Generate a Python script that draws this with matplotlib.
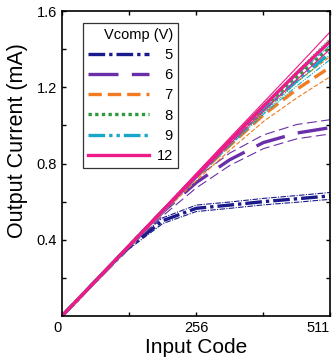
import matplotlib
matplotlib.use("Agg")
import matplotlib.pyplot as plt
import numpy as np

plt.rcParams['font.family'] = ['Liberation Sans', 'DejaVu Sans']

codes = [0, 64, 128, 192, 256, 320, 384, 448, 511]

v5_mid = [0, 0.183, 0.362, 0.50, 0.565, 0.582, 0.600, 0.615, 0.630]
v5_lo  = [0, 0.180, 0.352, 0.485, 0.548, 0.565, 0.583, 0.597, 0.612]
v5_hi  = [0, 0.186, 0.372, 0.515, 0.582, 0.598, 0.617, 0.632, 0.648]

v6_mid = [0, 0.184, 0.367, 0.545, 0.700, 0.820, 0.910, 0.960, 0.988]
v6_lo  = [0, 0.181, 0.358, 0.525, 0.672, 0.790, 0.878, 0.930, 0.955]
v6_hi  = [0, 0.187, 0.376, 0.562, 0.725, 0.855, 0.950, 1.005, 1.030]

v7_mid = [0, 0.184, 0.368, 0.550, 0.728, 0.895, 1.055, 1.190, 1.305]
v7_lo  = [0, 0.182, 0.362, 0.540, 0.710, 0.870, 1.020, 1.145, 1.255]
v7_hi  = [0, 0.186, 0.372, 0.558, 0.740, 0.915, 1.085, 1.230, 1.360]

v8_mid = [0, 0.184, 0.368, 0.552, 0.735, 0.915, 1.090, 1.255, 1.410]
v8_lo  = [0, 0.182, 0.364, 0.545, 0.725, 0.898, 1.065, 1.225, 1.370]
v8_hi  = [0, 0.186, 0.372, 0.558, 0.745, 0.930, 1.110, 1.285, 1.455]

v9_mid = [0, 0.184, 0.368, 0.550, 0.732, 0.910, 1.080, 1.235, 1.380]
v9_lo  = [0, 0.182, 0.364, 0.544, 0.722, 0.893, 1.058, 1.208, 1.345]
v9_hi  = [0, 0.186, 0.372, 0.556, 0.742, 0.925, 1.100, 1.265, 1.420]

v12_mid = [0, 0.184, 0.369, 0.553, 0.737, 0.920, 1.100, 1.275, 1.440]
v12_lo  = [0, 0.182, 0.364, 0.546, 0.726, 0.903, 1.075, 1.240, 1.400]
v12_hi  = [0, 0.186, 0.373, 0.560, 0.748, 0.935, 1.120, 1.305, 1.490]

labels = ['5', '6', '7', '8', '9', '12']
colors = ['#1a1a8c', '#6a2fa8', '#f27a20', '#2a9a3a', '#19a7c9', '#ee1a8a']
styles = [(0, (5, 1.2, 1, 1.2)), (0, (9, 4)), (0, (4, 1.8)), (0, (1, 1)),
          (0, (5, 1.2, 1, 1.2, 1, 1.2)), '-']
mids = [v5_mid, v6_mid, v7_mid, v8_mid, v9_mid, v12_mid]
los = [v5_lo, v6_lo, v7_lo, v8_lo, v9_lo, v12_lo]
his = [v5_hi, v6_hi, v7_hi, v8_hi, v9_hi, v12_hi]

fig = plt.figure(figsize=(3.35, 3.63), dpi=100)
ax = fig.add_axes([0.185, 0.1295, 0.800, 0.8400])

handles = []
for lab, c, ls, m, lo, hi in zip(labels, colors, styles, mids, los, his):
    ax.plot(codes, lo, color=c, lw=0.8, ls=ls)
    ax.plot(codes, hi, color=c, lw=0.8, ls=ls)
    h, = ax.plot(codes, m, color=c, lw=2.4, ls=ls, label='\u2007' * (2 - len(lab)) + lab)
    handles.append(h)

ax.set_xlim(0, 511)
ax.set_ylim(0, 1.6)
ax.set_xticks([0, 256, 511])
ax.set_xticklabels(['0', '256', '511'], fontsize=10.5)
ax.set_xticks([128, 384], minor=True)
xt = ax.get_xticklabels()
xt[0].set_ha('right')
xt[2].set_ha('right')
ax.set_yticks([0.4, 0.8, 1.2, 1.6])
ax.set_yticklabels(['0.4', '0.8', '1.2', '1.6'], fontsize=10.5)
ax.set_yticks([0.2, 0.6, 1.0, 1.4], minor=True)
ax.tick_params(which='both', direction='in', top=True, right=True, length=3, width=1)
for s in ax.spines.values():
    s.set_linewidth(1.2)

ax.set_xlabel('Input Code', fontsize=15, labelpad=2)
ax.set_ylabel('Output Current (mA)', fontsize=15.5)
ax.yaxis.set_label_coords(-0.127, 0.574)

leg = ax.legend(handles=handles, title='Vcomp (V)', loc='upper left',
                bbox_to_anchor=(0.078, 0.961), fontsize=10.5, title_fontsize=10.5,
                fancybox=False, edgecolor='#333333', framealpha=1,
                handlelength=4.2, handletextpad=0.5, labelspacing=0.42,
                borderpad=0.35, borderaxespad=0, alignment='right')
leg.get_frame().set_linewidth(0.9)

fig.savefig('out.png', dpi=100)
